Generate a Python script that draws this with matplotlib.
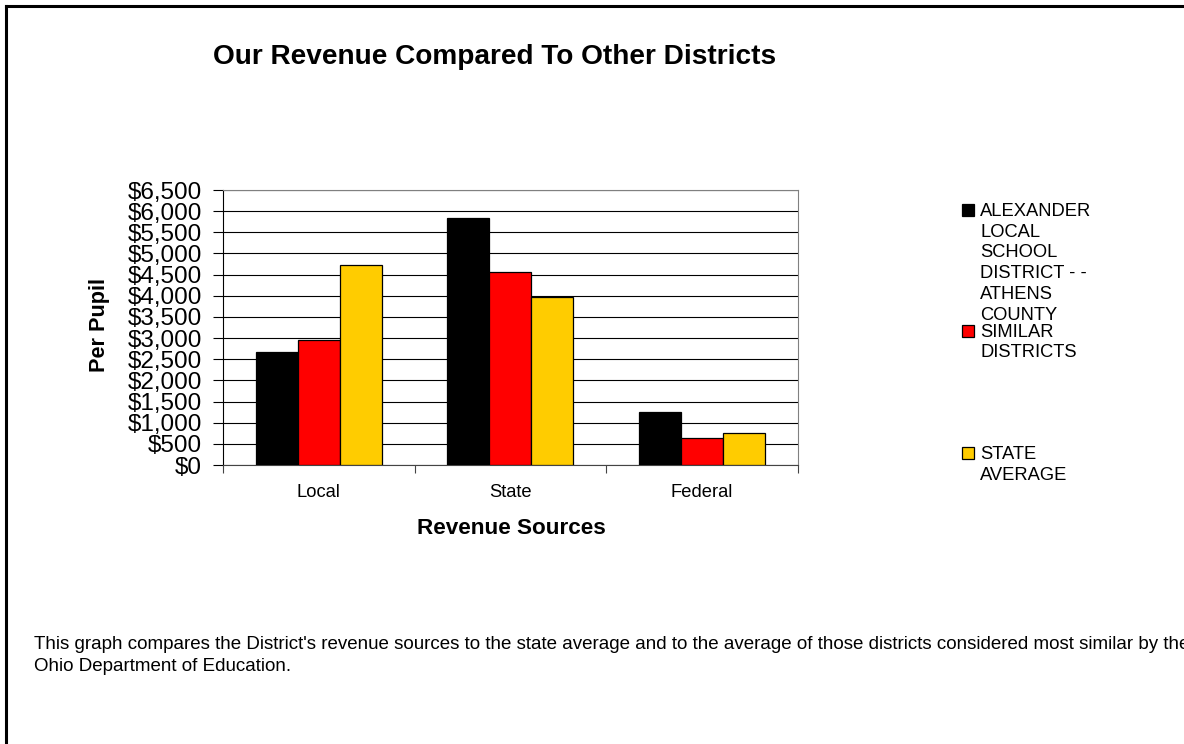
import numpy as np
import matplotlib
matplotlib.use("Agg")
import matplotlib.pyplot as plt
from matplotlib.patches import Rectangle
from matplotlib.ticker import FuncFormatter

plt.rcParams['font.family'] = ['Liberation Sans', 'DejaVu Sans']

# data
categories = ["Local", "State", "Federal"]
series_names = ["ALEXANDER LOCAL SCHOOL DISTRICT - - ATHENS COUNTY",
                "SIMILAR DISTRICTS",
                "STATE AVERAGE"]
alexander = [2680, 5850, 1260]
similar = [2955, 4570, 630]
state_avg = [4730, 3965, 765]
colors = ["#000000", "#FF0000", "#FFCC00"]

# legend labels, wrapped like the original
legend_lines = [["ALEXANDER", "LOCAL", "SCHOOL", "DISTRICT - -", "ATHENS", "COUNTY"],
                ["SIMILAR", "DISTRICTS"],
                ["STATE", "AVERAGE"]]

W, H = 1184, 744
fig = plt.figure(figsize=(W / 100, H / 100), dpi=100)

def fx(px):
    return px / W

def fy(py):
    return 1 - py / H

ax = fig.add_axes([fx(223), fy(465), fx(797.5) - fx(223), fy(190) - fy(465)])

x = np.arange(len(categories))
bw = 0.22
for i, vals in enumerate([alexander, similar, state_avg]):
    ax.bar(x + (i - 1) * bw, vals, bw, color=colors[i], edgecolor="black",
           linewidth=0.9, zorder=3, label=series_names[i])

ax.set_xlim(-0.5, 2.5)
ax.set_ylim(0, 6500)
ax.set_yticks(np.arange(0, 6501, 500))
ax.yaxis.set_major_formatter(FuncFormatter(lambda v, p: "${:,.0f}".format(v)))
ax.grid(axis="y", color="#000000", linewidth=0.8, zorder=0)
ax.set_axisbelow(True)

# category labels between ticks at boundaries
ax.set_xticks(np.arange(-0.5, 3, 1))
ax.set_xticklabels([])
ax.set_xticks(x, minor=True)
ax.set_xticklabels(categories, minor=True, fontsize=13.2)
ax.tick_params(axis="x", which="minor", length=0, pad=14)
ax.tick_params(axis="x", which="major", length=6, direction="out", color="#444444")
ax.tick_params(axis="y", length=7, direction="out", labelsize=17.5, pad=8)

for s in ["top", "right"]:
    ax.spines[s].set_color("#808080")
ax.spines["bottom"].set_color("#444444")
ax.spines["left"].set_color("#000000")

fig.text(fx(494.5), fy(57), "Our Revenue Compared To Other Districts",
         fontsize=20.2, fontweight="bold", ha="center", va="center")
fig.text(fx(100), fy(325), "Per Pupil", fontsize=15.6, fontweight="bold",
         rotation=90, ha="center", va="center")
fig.text(fx(511), fy(534), "Revenue Sources", fontsize=16.2, fontweight="bold",
         ha="center", va="baseline")

# legend drawn by hand to follow the original spacing
base_y = [216, 336.7, 459.3]
for i, lines in enumerate(legend_lines):
    fig.add_artist(Rectangle((fx(962), fy(base_y[i])), fx(974) - fx(962),
                             fy(204) - fy(216), transform=fig.transFigure,
                             facecolor=colors[i], edgecolor="black", linewidth=0.9))
    for j, line in enumerate(lines):
        fig.text(fx(980), fy(base_y[i] + j * 20.7), line, fontsize=13.2,
                 ha="left", va="baseline")

fig.text(fx(34), fy(649), "This graph compares the District's revenue sources to the state average "
         "and to the average of those districts considered most similar by the",
         fontsize=13.5, ha="left", va="baseline")
fig.text(fx(34), fy(671), "Ohio Department of Education.",
         fontsize=13.5, ha="left", va="baseline")

# page border (runs off the right and bottom edges)
fig.add_artist(plt.Line2D([fx(6), 1.01], [fy(6), fy(6)], color="black", linewidth=2.2,
                          transform=fig.transFigure))
fig.add_artist(plt.Line2D([fx(6), fx(6)], [fy(6), -0.01], color="black", linewidth=2.2,
                          transform=fig.transFigure))

fig.savefig("out.png", dpi=100)
